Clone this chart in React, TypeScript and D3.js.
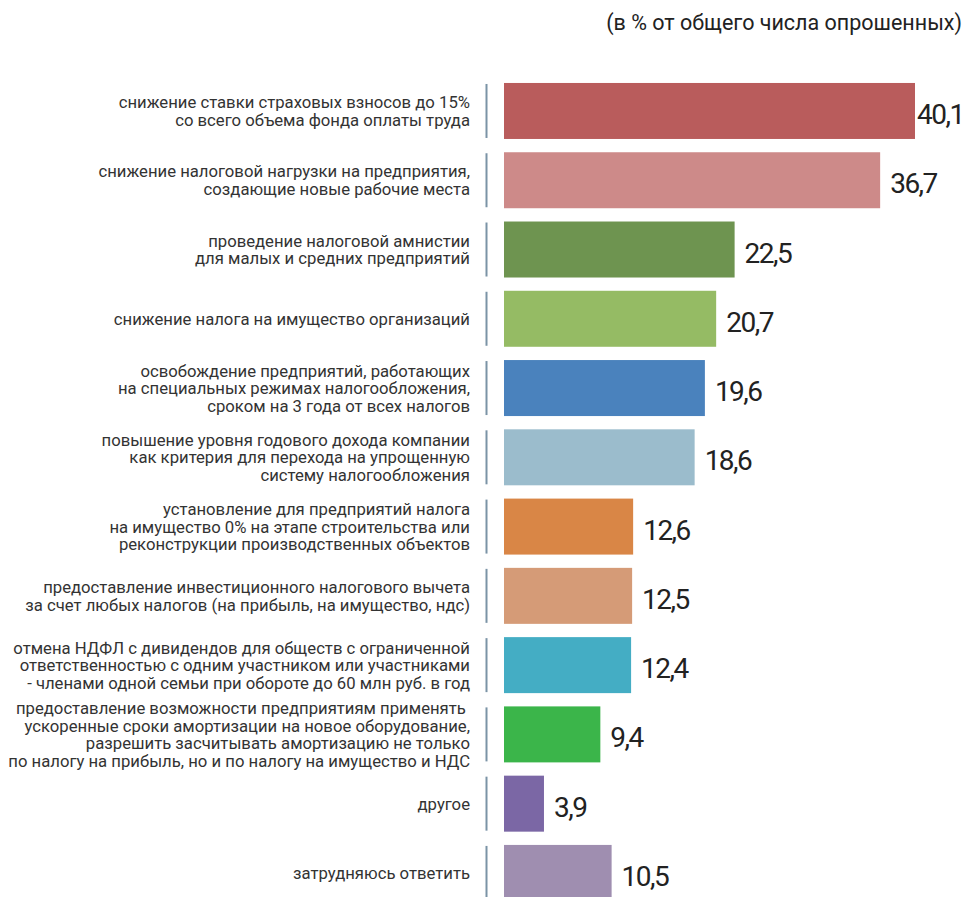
import React from "react";
import * as d3 from "d3";

const categories: string[][] = [
  ["снижение ставки страховых взносов до 15%", "со всего объема фонда оплаты труда"],
  ["снижение налоговой нагрузки на предприятия,", "создающие новые рабочие места"],
  ["проведение налоговой амнистии", "для малых и средних предприятий"],
  ["снижение налога на имущество организаций"],
  ["освобождение предприятий, работающих", "на специальных режимах налогообложения,", "сроком на 3 года от всех налогов"],
  ["повышение уровня годового дохода компании", "как критерия для перехода на упрощенную", "систему налогообложения"],
  ["установление для предприятий налога", "на имущество 0% на этапе строительства или", "реконструкции производственных объектов"],
  ["предоставление инвестиционного налогового вычета", "за счет любых налогов (на прибыль, на имущество, ндс)"],
  ["отмена НДФЛ с дивидендов для обществ с ограниченной", "ответственностью с одним участником или участниками", "- членами одной семьи при обороте до 60 млн руб. в год"],
  ["предоставление возможности предприятиям применять ", "ускоренные сроки амортизации на новое оборудование,", "разрешить засчитывать амортизацию не только", "по налогу на прибыль, но и по налогу на имущество и НДС"],
  ["другое"],
  ["затрудняюсь ответить"],
];

const values = [40.1, 36.7, 22.5, 20.7, 19.6, 18.6, 12.6, 12.5, 12.4, 9.4, 3.9, 10.5];

const colors = [
  "#b95c5c", "#cd8a89", "#6e9450", "#95bb64", "#4a82bd", "#9bbccc",
  "#d98646", "#d59b77", "#44adc4", "#3bb54a", "#7b67a5", "#9f8eb0",
];

const title = "(в % от общего числа опрошенных)";

const W = 966;
const H = 897;
const FONT = "Roboto, 'Noto Sans', sans-serif";

export default function App() {
  const ids = values.map((_, i) => String(i));

  const x = d3.scaleLinear().domain([0, 40.1]).range([504, 915]);
  const y = d3.scaleBand<string>().domain(ids).range([69.7, 914.2]).padding(0.1916);

  const fmt = (v: number) => v.toFixed(1).replace(".", ",");
  const lineH = 17.5;
  const vmax = d3.max(values)!;

  return (
    <svg width={W} height={H} style={{ position: "absolute", left: 0, top: 0, background: "#fff" }} fontFamily={FONT}>
      <text x={962} y={30} textAnchor="end" fontSize={21.5} fill="#222">{title}</text>
      {values.map((v, i) => {
        const y0 = y(ids[i])!;
        const bw = y.bandwidth();
        const cy = y0 + bw / 2;
        const lines = categories[i];
        const xEnd = x(v);
        // biggest bar label hugs the bar so it fits the frame
        const lx = v === vmax ? xEnd + 2 : xEnd + 10;
        return (
          <g key={i}>
            <rect x={x(0)} y={y0} width={xEnd - x(0)} height={bw} fill={colors[i]} />
            <rect x={485.5} y={y0 + 1} width={2} height={bw - 2} fill="#7b93a6" />
            <text textAnchor="end" fontSize={16.7} fill="#333" style={{ whiteSpace: "pre" }}>
              {lines.map((l, j) => (
                <tspan key={j} x={470} y={cy + (j - (lines.length - 1) / 2) * lineH + 6}>{l}</tspan>
              ))}
            </text>
            <text x={lx} y={cy + 13} fontSize={28} letterSpacing={-1.5} fill="#222">{fmt(v)}</text>
          </g>
        );
      })}
    </svg>
  );
}
